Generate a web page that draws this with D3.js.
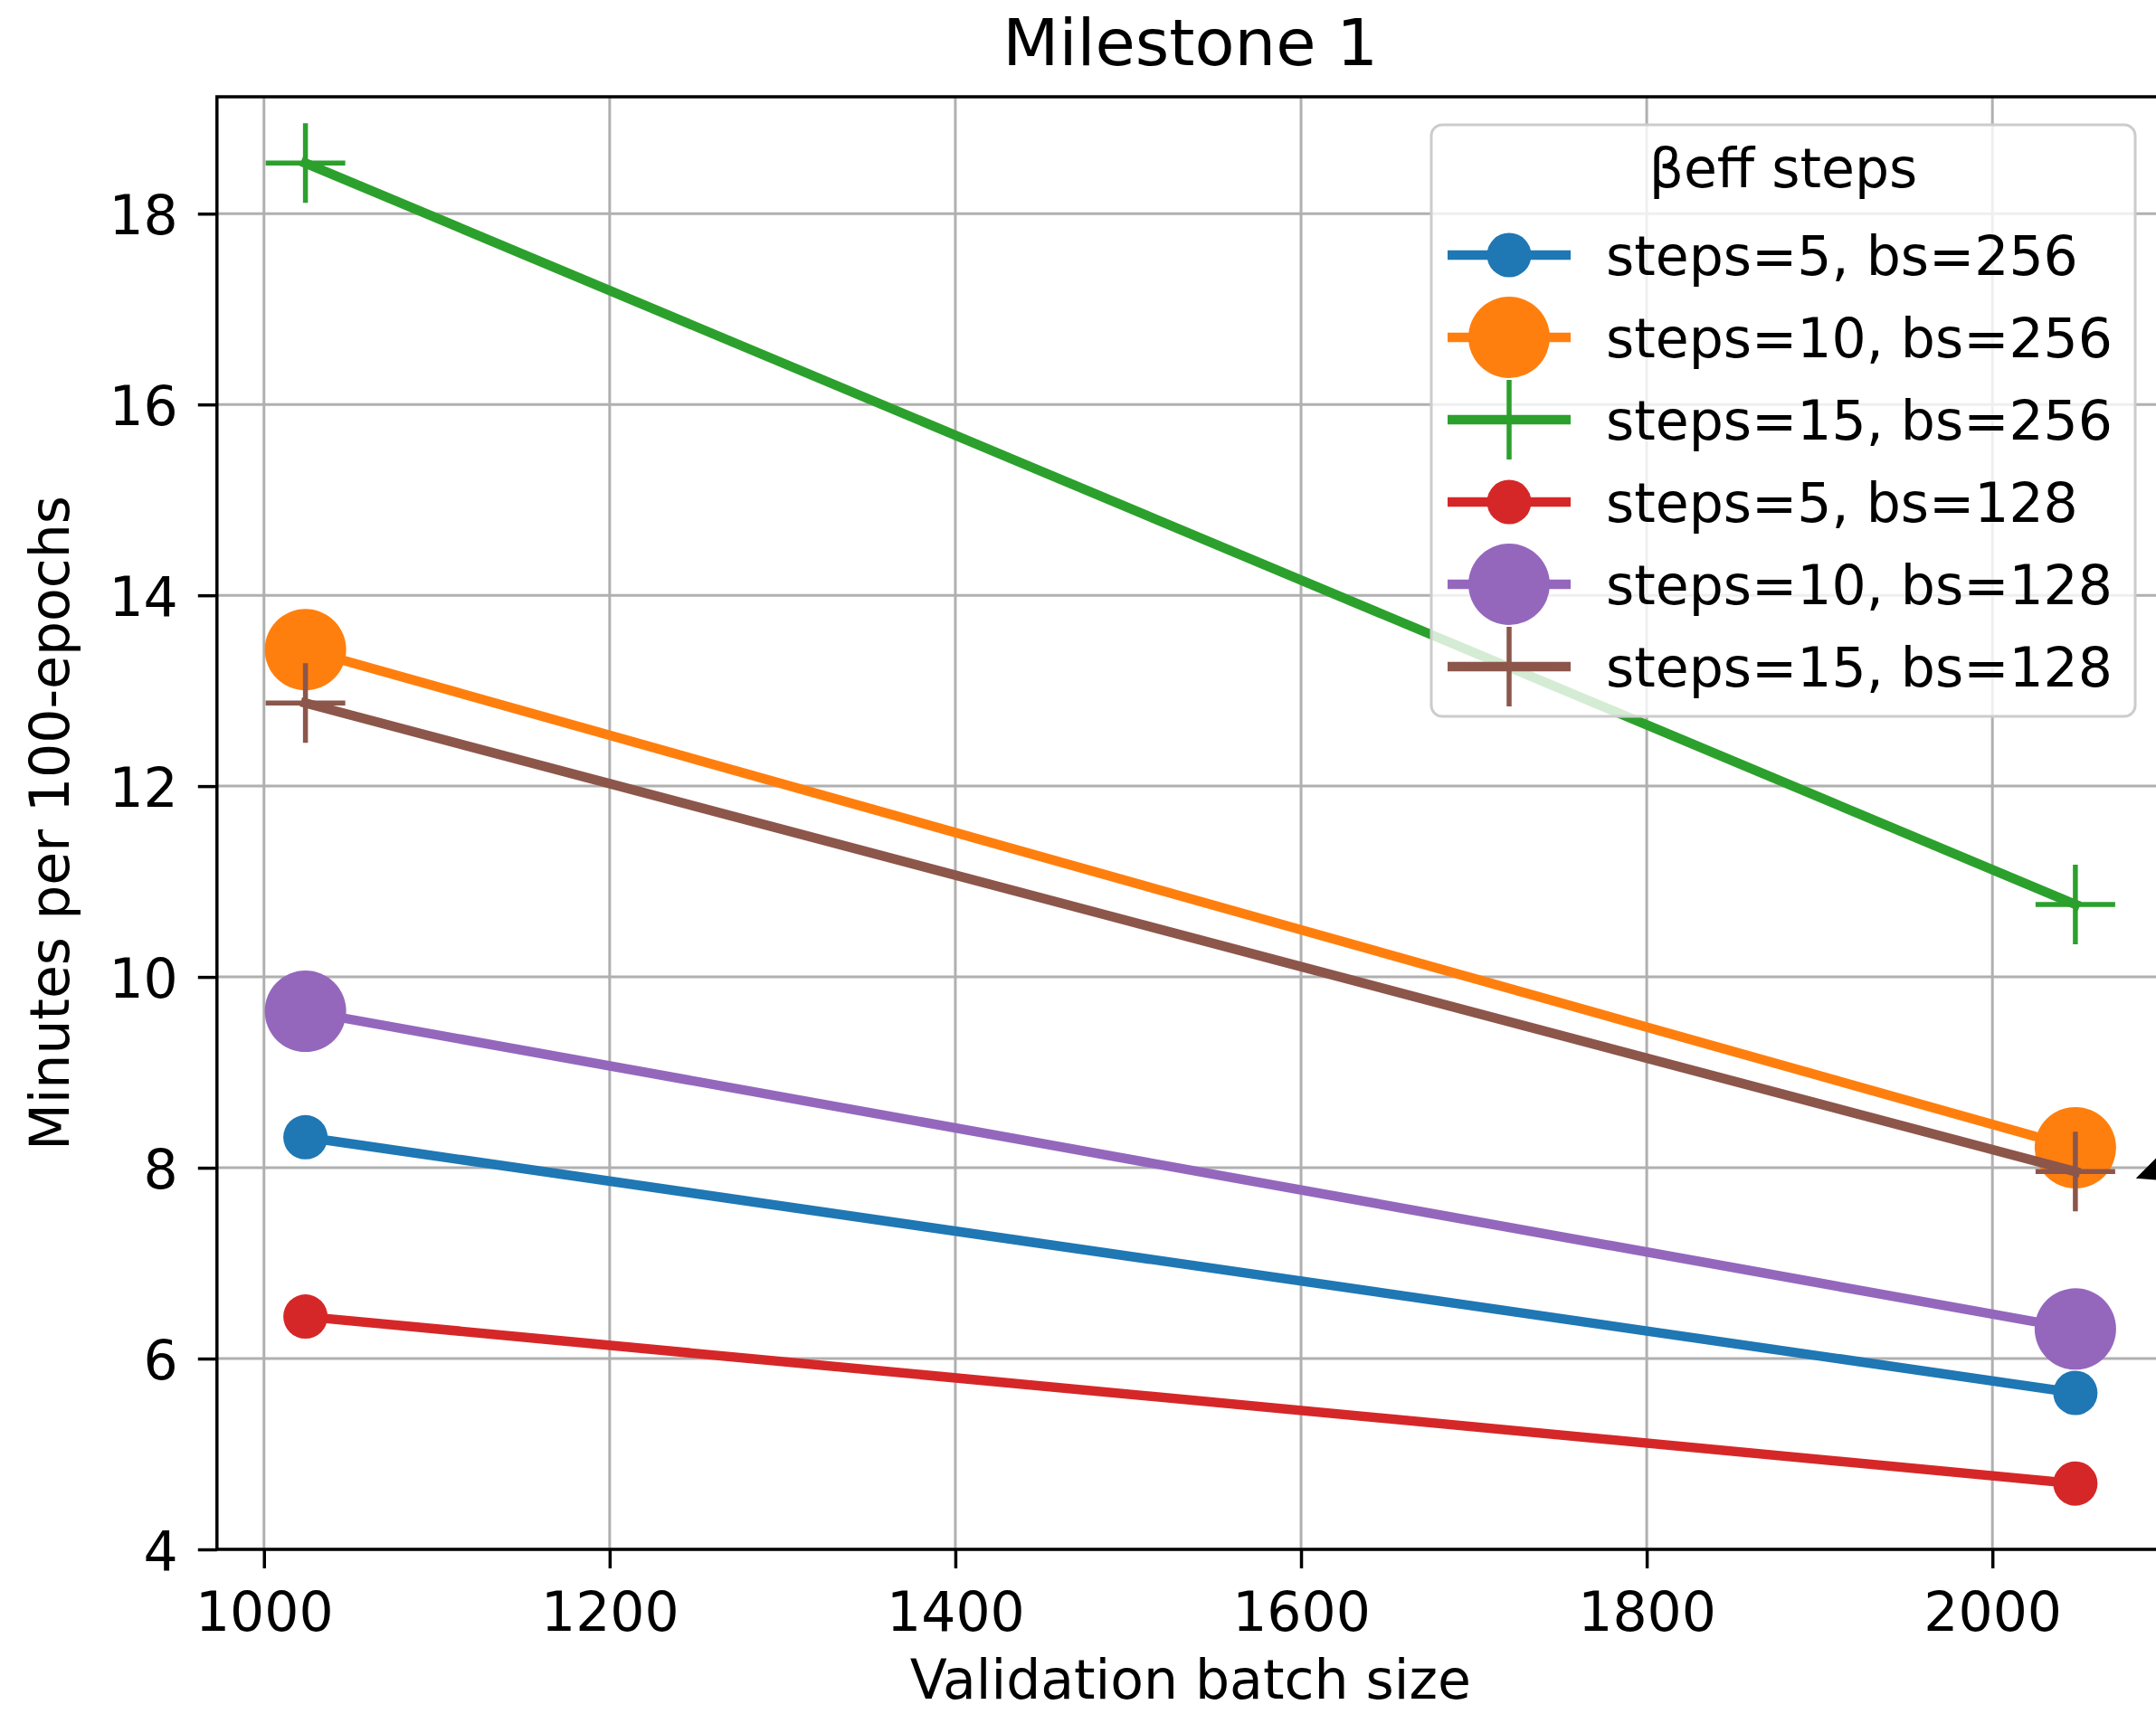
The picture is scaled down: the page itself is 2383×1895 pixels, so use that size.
<!DOCTYPE html>
<html>
<head>
<meta charset="utf-8">
<script src="https://cdn.jsdelivr.net/npm/d3@7"></script>
<style>
  html, body { margin: 0; padding: 0; background: #ffffff; }
  svg { display: block; }
  text { font-family: "DejaVu Sans", sans-serif; fill: #000; }
</style>
</head>
<body>
<div id="chart"></div>
<script>
// Validation batch sizes on the x axis
const batchSizes = [1024, 2048];

// One series per (steps, training batch size) configuration
const seriesLabels = [
  "steps=5, bs=256",
  "steps=10, bs=256",
  "steps=15, bs=256",
  "steps=5, bs=128",
  "steps=10, bs=128",
  "steps=15, bs=128"
];
// Minutes per 100 epochs, one value per batch size
const steps5bs256  = [8.32, 5.64];
const steps10bs256 = [13.43, 8.21];
const steps15bs256 = [18.53, 10.76];
const steps5bs128  = [6.44, 4.69];
const steps10bs128 = [9.64, 6.31];
const steps15bs128 = [12.87, 7.96];
const seriesValues = [steps5bs256, steps10bs256, steps15bs256, steps5bs128, steps10bs128, steps15bs128];

const seriesColors = ["#1f77b4", "#ff7f0e", "#2ca02c", "#d62728", "#9467bd", "#8c564b"];
// marker kind per series: small dot, large dot, plus
const seriesMarkers = ["dot", "bigdot", "plus", "dot", "bigdot", "plus"];

const xTickValues = [1000, 1200, 1400, 1600, 1800, 2000];
const yTickValues = [4, 6, 8, 10, 12, 14, 16, 18];

const titleText = "Milestone 1";
const xLabelText = "Validation batch size";
const yLabelText = "Minutes per 100-epochs";
const legendTitleText = "βeff steps";

// annotation arrow pointing at the right-hand end (data coordinates of its tip)
const arrowTip = [2083, 7.89];

const W = 2383, H = 1895;
const plot = { left: 239.8, right: 2391.7, top: 107, bottom: 1713 };

const svg = d3.select("#chart").append("svg")
  .attr("width", W).attr("height", H);

const x = d3.scaleLinear().domain([972.8, 2099.2]).range([plot.left, plot.right]);
const y = d3.scaleLinear().domain([4, 19.225]).range([plot.bottom, plot.top]);

const FS = 60;
const LW = 10.5;

svg.append("defs").append("clipPath").attr("id", "plotClip")
  .append("rect")
  .attr("x", plot.left).attr("y", plot.top)
  .attr("width", plot.right - plot.left).attr("height", plot.bottom - plot.top);

// grid lines
const grid = svg.append("g").attr("clip-path", "url(#plotClip)");
grid.selectAll("line.gx").data(xTickValues).join("line")
  .attr("x1", d => x(d)).attr("x2", d => x(d))
  .attr("y1", plot.top).attr("y2", plot.bottom)
  .attr("stroke", "#b0b0b0").attr("stroke-width", 3);
grid.selectAll("line.gy").data(yTickValues).join("line")
  .attr("y1", d => y(d)).attr("y2", d => y(d))
  .attr("x1", plot.left).attr("x2", plot.right)
  .attr("stroke", "#b0b0b0").attr("stroke-width", 3);

// marker drawing helper
function drawMarker(g, kind, color, cx, cy) {
  if (kind === "dot" || kind === "bigdot") {
    g.append("circle").attr("cx", cx).attr("cy", cy)
      .attr("r", kind === "dot" ? 24.5 : 45)
      .attr("fill", color);
  } else {
    const h = 44;
    g.append("path")
      .attr("d", `M${cx - h},${cy}H${cx + h}M${cx},${cy - h}V${cy + h}`)
      .attr("stroke", color).attr("stroke-width", 5.5).attr("fill", "none");
  }
}

// series lines and markers
const lineGen = d3.line().x(d => x(d[0])).y(d => y(d[1]));
const marks = svg.append("g").attr("clip-path", "url(#plotClip)");
seriesValues.forEach((vals, i) => {
  const pts = batchSizes.map((b, j) => [b, vals[j]]);
  const g = marks.append("g");
  g.append("path").datum(pts)
    .attr("d", lineGen)
    .attr("fill", "none")
    .attr("stroke", seriesColors[i])
    .attr("stroke-width", LW)
    .attr("stroke-linecap", "square");
  pts.forEach(p => drawMarker(g, seriesMarkers[i], seriesColors[i], x(p[0]), y(p[1])));
});

// axes: spines, ticks and tick labels
const xAxis = d3.axisBottom(x).tickValues(xTickValues).tickSize(21).tickPadding(21).tickFormat(d3.format("d"));
const yAxis = d3.axisLeft(y).tickValues(yTickValues).tickSize(21).tickPadding(21).tickFormat(d3.format("d"));

const gx = svg.append("g").attr("transform", `translate(0,${plot.bottom})`).call(xAxis);
const gy = svg.append("g").attr("transform", `translate(${plot.left},0)`).call(yAxis);
[gx, gy].forEach(g => {
  g.select(".domain").remove();
  g.selectAll(".tick line").attr("stroke", "#000").attr("stroke-width", 3.5);
  g.selectAll(".tick text")
    .attr("font-family", "DejaVu Sans, sans-serif")
    .attr("font-size", FS).attr("fill", "#000");
});
gx.selectAll(".tick text").attr("dy", null).attr("y", 90);
gy.selectAll(".tick text").attr("dy", null).attr("x", -43).attr("y", 22);

// spines
svg.append("path")
  .attr("d", `M${plot.left},${plot.top}V${plot.bottom}H${plot.right}V${plot.top}Z`)
  .attr("fill", "none").attr("stroke", "#000").attr("stroke-width", 3.5);

// annotation arrow head
const tx = x(arrowTip[0]), ty = y(arrowTip[1]);
svg.append("path")
  .attr("d", `M${tx},${ty}L${tx + 40},${ty - 40}L${tx + 46},${ty + 4}Z`)
  .attr("fill", "#000");

// titles
svg.append("text").attr("x", (plot.left + plot.right) / 2).attr("y", 72)
  .attr("text-anchor", "middle").attr("font-size", 72).text(titleText);
svg.append("text").attr("x", (plot.left + plot.right) / 2).attr("y", 1878)
  .attr("text-anchor", "middle").attr("font-size", FS).text(xLabelText);
svg.append("text")
  .attr("transform", `translate(76,${(plot.top + plot.bottom) / 2}) rotate(-90)`)
  .attr("text-anchor", "middle").attr("font-size", FS).text(yLabelText);

// legend
const leg = { x: 1582, y: 138, w: 778, h: 654 };
const lg = svg.append("g");
lg.append("rect")
  .attr("x", leg.x).attr("y", leg.y).attr("width", leg.w).attr("height", leg.h)
  .attr("rx", 12).attr("ry", 12)
  .attr("fill", "#ffffff").attr("fill-opacity", 0.8)
  .attr("stroke", "#cccccc").attr("stroke-width", 3);
lg.append("text").attr("x", 1971).attr("y", 207)
  .attr("text-anchor", "middle").attr("font-size", FS).text(legendTitleText);
const rowY = d3.scaleLinear().domain([0, 5]).range([282, 737]);
seriesLabels.forEach((lab, i) => {
  const cy = rowY(i);
  const g = lg.append("g");
  g.append("line").attr("x1", 1600).attr("x2", 1736).attr("y1", cy).attr("y2", cy)
    .attr("stroke", seriesColors[i]).attr("stroke-width", LW);
  drawMarker(g, seriesMarkers[i], seriesColors[i], 1668, cy);
  g.append("text").attr("x", 1775).attr("y", cy + 22)
    .attr("font-size", FS).text(lab);
});
</script>
</body>
</html>
